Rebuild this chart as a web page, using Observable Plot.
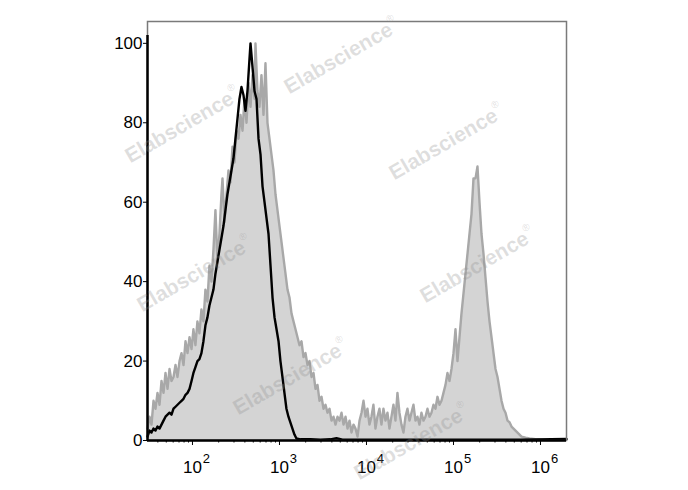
<!DOCTYPE html>
<html>
<head>
<meta charset="utf-8">
<script src="https://cdn.jsdelivr.net/npm/d3@7"></script>
<script src="https://cdn.jsdelivr.net/npm/@observablehq/plot@0.6"></script>
<style>
  html, body { margin: 0; padding: 0; background: #fff; }
</style>
</head>
<body>
<div id="chart"></div>
<script>
// ---- Data (log10 fluorescence intensity, event count as % of max) ----
const stainedLog = [
  1.483,1.506,1.529,1.552,1.575,1.598,1.621,1.644,1.667,1.690,1.713,1.736,1.759,1.782,1.805,1.828,1.851,1.874,1.897,1.920,
  1.943,1.966,1.989,2.011,2.034,2.057,2.080,2.103,2.126,2.149,2.172,2.195,2.218,2.241,2.264,2.287,2.310,2.333,2.345,2.368,
  2.391,2.414,2.437,2.460,2.483,2.506,2.529,2.552,2.575,2.598,2.621,2.644,2.667,2.690,2.713,2.724,2.747,2.770,2.793,2.816,
  2.839,2.862,2.885,2.908,2.931,2.954,2.977,3.000,3.023,3.046,3.069,3.092,3.115,3.138,3.161,3.184,3.207,3.230,3.253,3.276,
  3.299,3.322,3.345,3.368,3.391,3.414,3.437,3.460,3.483,3.506,3.529,3.552,3.575,3.598,3.621,3.644,3.667,3.690,3.713,3.736,
  3.759,3.782,3.805,3.828,3.851,3.874,3.897,3.920,3.943,3.966,3.989,4.011,4.034,4.057,4.080,4.103,4.126,4.149,4.172,4.195,
  4.218,4.241,4.264,4.287,4.310,4.333,4.356,4.379,4.402,4.425,4.448,4.471,4.494,4.517,4.540,4.563,4.586,4.609,4.632,4.655,
  4.678,4.701,4.724,4.747,4.770,4.793,4.816,4.839,4.862,4.885,4.908,4.931,4.954,4.977,5.000,5.023,5.046,5.069,5.092,5.115,
  5.138,5.161,5.184,5.207,5.230,5.253,5.276,5.299,5.322,5.345,5.368,5.391,5.414,5.437,5.460,5.483,5.506,5.529,5.552,5.575,
  5.598,5.621,5.644,5.667,5.690,5.713,5.736,5.759,5.782,5.828,5.874,5.943,6.057,6.172,6.299
];
const stainedCount = [
  3,6,4,10,8,12,9,15,12,17,13,18,15,16,19,16,20,22,19,25,
  22,26,23,28,24,30,27,33,30,38,35,44,40,48,58,45,52,62,66,55,
  62,68,65,74,70,78,76,82,78,86,80,90,84,92,86,100,88,84,92,82,
  95,80,76,72,68,62,58,54,50,46,42,38,36,32,30,28,26,24,25,21,
  22,19,20,16,17,13,14,10,11,8,9,7,8,5,6,4,6,5,7,4,
  6,3,5,2,4,3,1,5,7,10,6,8,4,6,9,3,6,8,4,8,
  5,7,3,6,9,5,12,7,4,2,6,8,5,7,9,5,6,4,7,5,
  6,8,6,7,9,8,11,9,10,12,14,17,15,18,22,28,20,26,32,37,
  42,47,52,57,66,66,69,60,52,47,41,35,30,26,22,18,16,13,10,8,
  7,5,4.6,3.5,3,2.5,2,1.5,1,0.7,0.5,0.3,0.1,0.1,0.2
];
const isotypeLog = [
  1.483,1.506,1.529,1.552,1.575,1.598,1.621,1.644,1.667,1.690,1.713,1.736,1.759,1.782,1.805,1.828,1.851,1.874,1.897,1.920,
  1.943,1.966,1.989,2.011,2.034,2.057,2.080,2.103,2.126,2.149,2.172,2.195,2.218,2.241,2.264,2.287,2.310,2.333,2.356,2.379,
  2.402,2.425,2.448,2.471,2.494,2.517,2.540,2.563,2.586,2.609,2.632,2.655,2.667,2.690,2.713,2.736,2.759,2.782,2.805,2.828,
  2.851,2.874,2.897,2.920,2.943,2.966,2.989,3.011,3.034,3.057,3.080,3.103,3.126,3.149,3.172,3.195,3.241,3.356,3.471,3.586,
  3.655,3.724,3.931,4.391,4.851,5.310,5.770,6.299
];
const isotypeCount = [
  1,2.5,2,3,2.5,3.5,3,4,5,6,6.5,7,6.5,8,8.5,9,9.5,10,10.5,11.5,
  12,13,15,17,18.5,20,20.5,22,25,29,31,34,36,38,42,45,48,51,54,58,
  62,65,68,71,76,81,86,89,87,83,88,96,100,94,88,86,76,72,64,60,
  56,52,44,36,31,28,25,20,16,12,8,6,4.5,3,1.5,0.5,0.3,0.3,0.2,0.3,
  0.6,0.2,0.2,0.2,0.2,0.2,0.2,0.4
];

// ---- Axis ticks / labels ----
const yTicks = [0, 20, 40, 60, 80, 100];
const decadeTicks = [1e2, 1e3, 1e4, 1e5, 1e6];
const decadeBase = ["10", "10", "10", "10", "10"];
const decadeExponents = ["2", "3", "4", "5", "6"];
const minorTicks = [
  40, 50, 60, 70, 80, 90,
  200, 300, 400, 500, 600, 700, 800, 900,
  2000, 3000, 4000, 5000, 6000, 7000, 8000, 9000,
  2e4, 3e4, 4e4, 5e4, 6e4, 7e4, 8e4, 9e4,
  2e5, 3e5, 4e5, 5e5, 6e5, 7e5, 8e5, 9e5
];
const xDomainLog = [1.483, 6.299];
const yDomain = [0, 105.5];

// ---- Watermark ----
const watermarkText = "Elabscience";
const watermarkMark = "®";
const watermarkSpots = [
  [342, 57], [183, 126], [447, 143], [195, 275], [478, 266], [291, 378], [412, 443]
];

// ---- Build ----
const stained = stainedLog.map((l, i) => ({x: 10 ** l, y: stainedCount[i]}));
const isotype = isotypeLog.map((l, i) => ({x: 10 ** l, y: isotypeCount[i]}));
const xMin = 10 ** xDomainLog[0];

const font = "'Liberation Sans', Arial, Helvetica, sans-serif";

const chart = Plot.plot({
  width: 688,
  height: 490,
  marginLeft: 147,
  marginRight: 122,
  marginTop: 21,
  marginBottom: 50,
  style: {fontFamily: font, color: "#000", background: "#fff", overflow: "visible"},
  x: {type: "log", domain: [10 ** xDomainLog[0], 10 ** xDomainLog[1]]},
  y: {domain: yDomain},
  marks: [
    Plot.areaY(stained, {x: "x", y: "y", fill: "#d4d4d4"}),
    Plot.lineY(stained, {x: "x", y: "y", stroke: "#a8a8a8", strokeWidth: 2.4, strokeLinejoin: "round"}),
    Plot.lineY(isotype, {x: "x", y: "y", stroke: "#000", strokeWidth: 2.4, strokeLinejoin: "round"}),
    Plot.frame({stroke: "#7a7a7a", strokeWidth: 1.5}),
    Plot.ruleX([xMin], {y1: 0, y2: 102, stroke: "#000", strokeWidth: 2.5}),
    Plot.ruleY([0], {stroke: "#000", strokeWidth: 2.5}),
    Plot.axisY({ticks: yTicks, tickSize: 4, tickPadding: 1, fontSize: 17, label: null}),
    Plot.axisX({ticks: decadeTicks, tickSize: 5, tickFormat: () => "", label: null}),
    Plot.axisX({ticks: minorTicks, tickSize: 2.5, tickFormat: () => "", label: null}),
    Plot.text(decadeTicks, {x: (d) => d, text: (d, i) => decadeBase[i], frameAnchor: "bottom", dy: 32, fontSize: 17}),
    Plot.text(decadeTicks, {x: (d) => d, text: (d, i) => decadeExponents[i], frameAnchor: "bottom", dy: 22, dx: 14, fontSize: 13})
  ]
});

document.getElementById("chart").appendChild(chart);

// Watermark overlay
const svg = d3.select(chart);
const wm = svg.append("g")
  .attr("fill", "#8c8c8c")
  .attr("fill-opacity", 0.28)
  .style("font-family", font)
  .style("font-weight", "bold")
  .style("font-size", "21px");
watermarkSpots.forEach(([cx, cy]) => {
  const t = wm.append("text")
    .attr("transform", `translate(${cx},${cy}) rotate(-30)`)
    .attr("text-anchor", "middle")
    .attr("dominant-baseline", "middle");
  t.append("tspan").text(watermarkText);
  t.append("tspan").attr("dy", -9).style("font-size", "10px").style("font-weight", "normal").text(watermarkMark);
});
</script>
</body>
</html>
